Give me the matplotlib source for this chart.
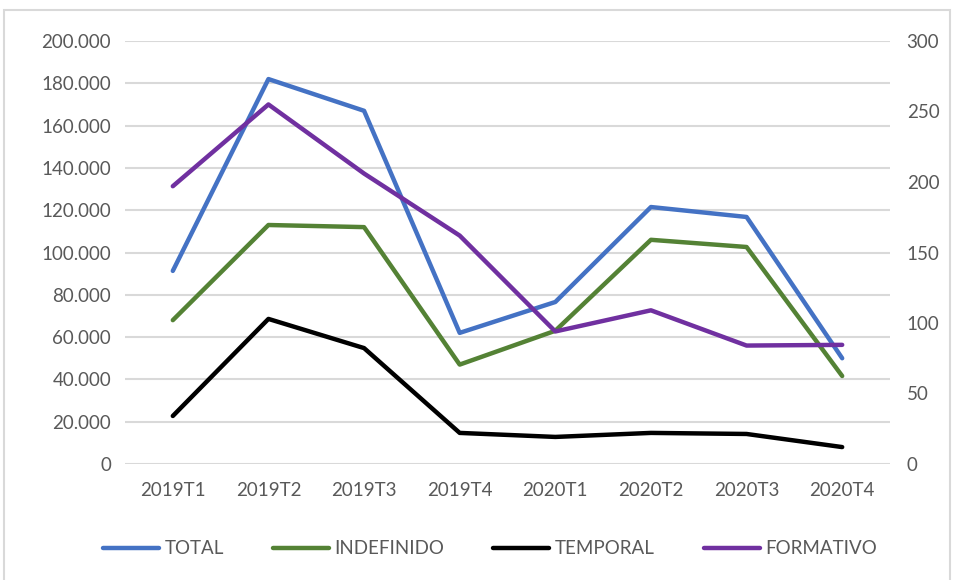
import matplotlib
matplotlib.use("Agg")
import matplotlib.pyplot as plt
from matplotlib.patches import Rectangle
from matplotlib.ticker import FuncFormatter

categories = ["2019T1", "2019T2", "2019T3", "2019T4", "2020T1", "2020T2", "2020T3", "2020T4"]
total = [91300, 182000, 167000, 62000, 76600, 121500, 116800, 50000]
indefinido = [68000, 113000, 112000, 47000, 63000, 106000, 102600, 41600]
temporal = [22700, 68600, 54800, 14700, 12800, 14700, 14200, 8000]
formativo = [197, 255, 206, 162, 94, 109, 84, 84.5]

plt.rcParams['font.family'] = ['Lato', 'DejaVu Sans']
txt = '#595959'
fs = 13.5

fig = plt.figure(figsize=(9.55, 5.8), dpi=100)
fig.patches.append(Rectangle((4/955, -0.01), 946/955, 1 - 10/580 + 0.01, transform=fig.transFigure,
                             fill=False, edgecolor='#d9d9d9', linewidth=1.5))
ax = fig.add_axes([125/955, 1 - 464/580, 765/955, 423/580])
ax2 = ax.twinx()

x = list(range(len(categories)))
lw = 3.2
l1, = ax.plot(x, total, color='#4472C4', lw=lw, label='TOTAL', solid_capstyle='round')
l2, = ax.plot(x, indefinido, color='#548235', lw=lw, label='INDEFINIDO', solid_capstyle='round')
l3, = ax.plot(x, temporal, color='#000000', lw=lw, label='TEMPORAL', solid_capstyle='round')
l4, = ax2.plot(x, formativo, color='#7030A0', lw=lw, label='FORMATIVO', solid_capstyle='round')

ax.set_xlim(-0.5, len(categories) - 0.5)
ax.set_ylim(0, 200000)
ax.set_yticks(range(0, 200001, 20000))
ax.yaxis.set_major_formatter(FuncFormatter(lambda v, p: '0' if v == 0 else f"{int(v):,}".replace(',', '.')))
ax2.set_ylim(0, 300)
ax2.set_yticks(range(0, 301, 50))

ax.grid(axis='y', color='#d9d9d9', lw=1.5)
ax.set_axisbelow(True)
for a in (ax, ax2):
    for s in a.spines.values():
        s.set_visible(False)
    a.tick_params(length=0, labelsize=fs, labelcolor=txt)
ax.set_xticks(x)
ax.set_xticklabels(categories)
ax.tick_params(axis='x', pad=13)
ax.tick_params(axis='y', pad=10)
ax2.tick_params(axis='y', pad=12)

fig.legend(handles=[l1, l2, l3, l4], loc='center', bbox_to_anchor=(0.513, 1 - 549/580), ncol=4,
           frameon=False, fontsize=fs, labelcolor=txt, handlelength=3.0, columnspacing=2.6,
           handletextpad=0.3)

fig.savefig('out.png', dpi=100)
